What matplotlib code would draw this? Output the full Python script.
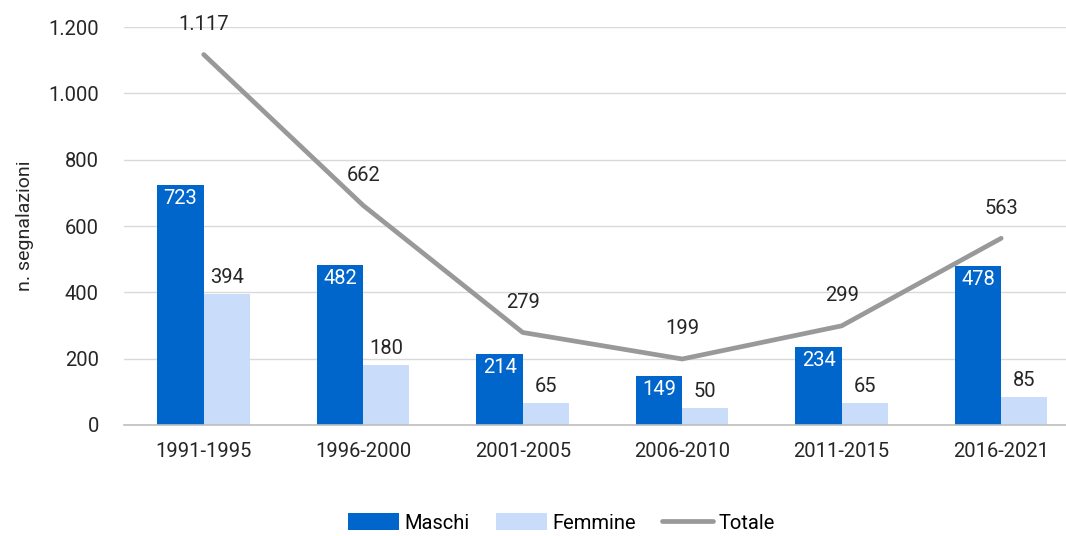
import matplotlib
matplotlib.use('Agg')
import matplotlib.pyplot as plt
import numpy as np

plt.rcParams['font.family'] = ['Roboto', 'DejaVu Sans']

periods = ['1991-1995', '1996-2000', '2001-2005', '2006-2010', '2011-2015', '2016-2021']
maschi = [723, 482, 214, 149, 234, 478]
femmine = [394, 180, 65, 50, 65, 85]
totale = [1117, 662, 279, 199, 299, 563]

c_m = '#0066CC'
c_f = '#C9DDFA'
c_t = '#999999'

def fmt(v):
    return f'{v:,}'.replace(',', '.')

fig = plt.figure(figsize=(10.66, 5.36), dpi=100)
ax = fig.add_axes([0.1163, 0.2071, 0.8977, 0.7425])

x = np.arange(len(periods))
w = 0.29
bm = ax.bar(x - w / 2, maschi, w, color=c_m, label='Maschi', zorder=2)
bf = ax.bar(x + w / 2, femmine, w, color=c_f, label='Femmine', zorder=2)
ln, = ax.plot(x, totale, color=c_t, lw=3.4, label='Totale', zorder=3, solid_capstyle='round')

fs = 14.5
for xi, v in zip(x, maschi):
    ax.text(xi - w / 2, v - 12, fmt(v), ha='center', va='top', color='white', fontsize=fs, zorder=4)
for xi, v in zip(x, femmine):
    ax.text(xi + w / 2, v + 22, fmt(v), ha='center', va='bottom', color='#262626', fontsize=fs, zorder=4)
for xi, v in zip(x, totale):
    ax.text(xi, v + 62, fmt(v), ha='center', va='bottom', color='#262626', fontsize=fs,
            zorder=4, clip_on=False)

ax.set_xlim(-0.5, len(periods) - 0.5)
ax.set_ylim(0, 1200)
ax.set_yticks(range(0, 1201, 200))
ax.set_yticklabels([fmt(v) for v in range(0, 1201, 200)])
ax.set_xticks(x)
ax.set_xticklabels(periods)
ax.tick_params(axis='both', length=0, labelsize=fs, colors='#262626')
ax.tick_params(axis='x', pad=12)
ax.tick_params(axis='y', pad=18)
ax.grid(axis='y', color='#D9D9D9', lw=1, zorder=0)
ax.set_axisbelow(True)
for s in ['top', 'right', 'left']:
    ax.spines[s].set_visible(False)
ax.spines['bottom'].set_color('#BFBFBF')
ax.spines['bottom'].set_linewidth(1.2)
ax.set_ylabel('n. segnalazioni', fontsize=14, color='#262626', labelpad=10)

fig.legend([bm, bf, ln], ['Maschi', 'Femmine', 'Totale'],
           loc='center', bbox_to_anchor=(0.527, 0.024), ncol=3, frameon=False,
           fontsize=fs, handlelength=2.5, handleheight=0.9, columnspacing=1.3,
           handletextpad=0.3)

fig.savefig('out.png', dpi=100)
